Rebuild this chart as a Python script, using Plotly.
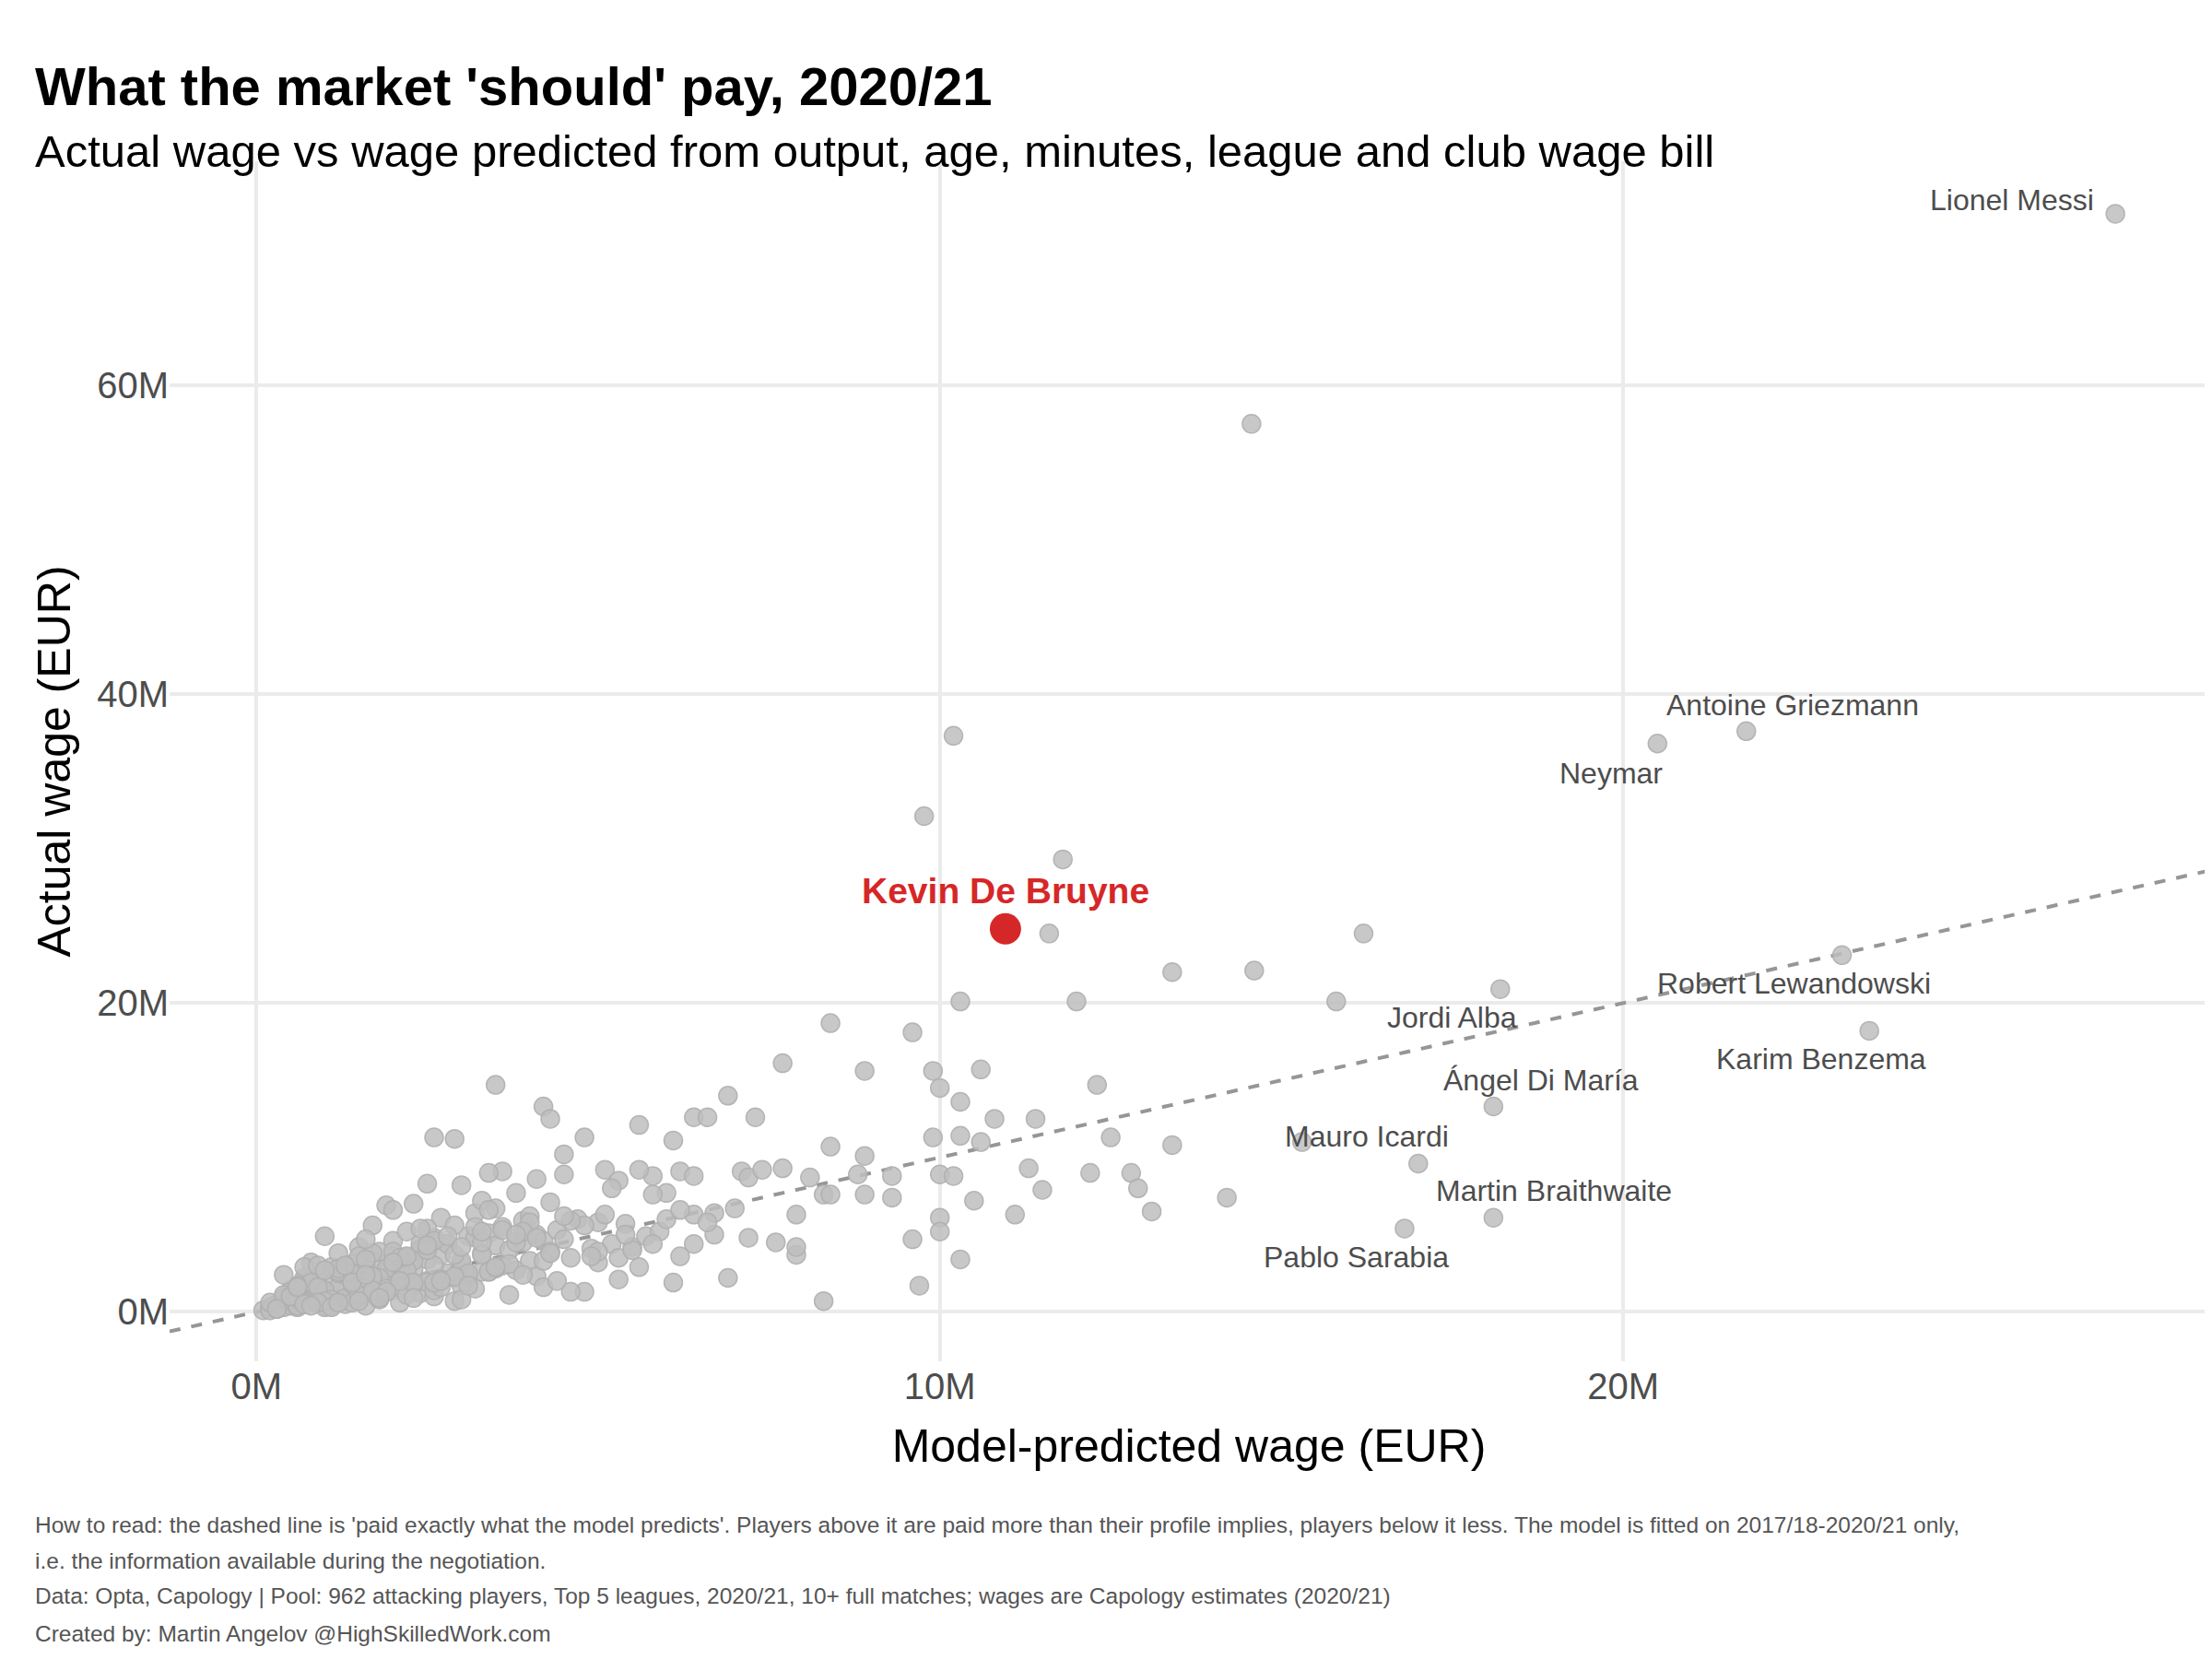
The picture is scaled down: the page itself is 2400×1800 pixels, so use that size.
import plotly.graph_objects as go

# labelled players
names = ["Lionel Messi", "Antoine Griezmann", "Neymar", "Robert Lewandowski", "Karim Benzema",
         "Jordi Alba", "Ángel Di María", "Mauro Icardi", "Martin Braithwaite", "Pablo Sarabia"]
named_pred = [27.2, 21.8, 20.5, 23.2, 23.6, 18.2, 18.1, 15.3, 18.1, 16.8]
named_actual = [71.1, 37.6, 36.8, 23.1, 18.2, 20.9, 13.3, 11.0, 6.1, 5.4]
label_shift = [(-112, 15), (50, 28), (-50, -32), (-52, -31), (-52, -31),
               (-52, -31), (52, 29), (70, 6), (66, 29), (-52, -31)]

kdb_pred = [10.96]
kdb_actual = [24.8]

# other players (model-predicted, actual), millions EUR
other_pred = [
    14.56, 10.2, 9.77, 11.8, 11.6, 16.2, 13.4, 14.6, 15.8, 12.0, 10.3, 17.0, 14.2,
    8.4, 9.6, 7.7, 10.6, 8.9, 9.9, 10.0, 12.3, 10.3, 6.9, 3.5, 4.2, 4.3, 2.6, 5.6, 6.4,
    6.6, 7.3, 10.8, 11.4, 8.4, 8.9, 9.9, 10.3, 10.6, 12.5, 13.4, 4.8, 4.5, 6.1, 11.3,
    12.2, 12.8, 12.9, 13.1, 11.1, 11.5, 10.0, 10.2, 10.5, 9.3, 8.9, 9.3, 8.8, 8.1, 8.3,
    8.4, 7.9, 10.0, 10.0, 9.6, 10.3, 9.7, 8.3, 7.9, 7.9, 7.6, 7.2, 6.9, 6.1, 6.2, 6.4,
    6.7, 7.1, 7.2, 7.4, 7.7, 7.0, 6.7, 6.4, 6.2, 6.4, 6.0, 5.8, 5.8, 5.6, 5.1, 5.3,
    5.2, 4.5, 4.1, 3.6, 3.4,
    # dense cluster
    0.1, 0.2, 0.2, 0.3, 0.3, 0.4, 0.4, 0.5, 0.5, 0.5, 0.6, 0.6, 0.7, 0.7, 0.7, 0.8,
    0.8, 0.9, 0.9, 1.0, 1.0, 1.0, 1.1, 1.1, 1.2, 1.2, 1.2, 1.3, 1.3, 1.4, 1.4, 1.4,
    1.5, 1.5, 1.6, 1.6, 1.6, 1.7, 1.7, 1.8, 1.8, 1.8, 1.9, 1.9, 2.0, 2.0, 2.0, 2.1,
    2.1, 2.2, 2.2, 2.2, 2.3, 2.3, 2.4, 2.4, 2.5, 2.5, 2.5, 2.6, 2.6, 2.7, 2.7, 2.8,
    2.8, 2.9, 2.9, 3.0, 3.0, 3.1, 3.1, 3.2, 3.2, 3.3, 3.3, 3.4, 3.4, 3.5, 3.5, 3.6,
    3.6, 3.7, 3.7, 3.8, 3.8, 3.9, 3.9, 4.0, 4.0, 4.1, 4.1, 4.2, 4.2, 4.3, 4.4, 4.4,
    4.5, 4.6, 4.7, 4.8, 4.9, 5.0, 5.0, 5.1, 5.2, 5.3, 5.4, 5.5, 5.6, 5.7, 5.9, 6.0,
    0.3, 0.6, 0.9, 1.1, 1.3, 1.5, 1.7, 1.9, 2.1, 2.3, 2.5, 2.7, 2.9, 3.1, 3.3, 3.5,
    0.4, 0.8, 1.2, 1.6, 2.0, 2.4, 2.8, 3.2, 3.6, 4.0, 1.0, 1.4, 1.8, 2.2, 2.6, 3.0,
    0.5, 0.7, 1.1, 1.3, 1.9, 2.3, 2.7, 3.4, 3.8, 4.3, 0.8, 2.5, 2.9, 1.5, 0.7, 3.0,
    2.0, 3.3, 3.9, 4.6, 5.3, 4.8, 5.5, 0.9, 1.7, 2.6,
    0.2, 0.4, 0.6, 0.8, 1.0, 1.2, 1.4, 1.6, 1.8, 2.0, 2.2, 2.4, 2.6, 2.8, 3.0, 3.2,
    0.3, 0.5, 0.7, 0.9, 1.1, 1.3, 1.5, 1.7, 1.9, 2.1, 2.3, 2.5, 2.7, 2.9, 3.1, 3.3,
    0.6, 1.0, 1.4, 1.8, 2.2, 2.6, 3.0, 3.4, 3.8, 4.2, 4.6, 5.0, 1.2, 1.6, 2.0, 2.4,
    0.4, 0.9, 1.3, 1.7, 2.1, 2.5, 2.9, 3.3, 3.7, 4.1, 4.5, 4.9, 5.4, 5.8, 6.2, 6.6,
    1.1, 1.5, 1.9, 2.3, 2.7, 3.1, 3.5, 3.9, 4.3, 0.6, 0.8, 1.0, 1.2, 1.4, 1.6, 1.8,
]
other_actual = [
    57.5, 37.3, 32.1, 29.3, 24.5, 24.5, 22.0, 22.1, 20.1, 20.1, 20.1, 9.6, 7.4,
    18.7, 18.1, 16.1, 15.7, 15.6, 15.6, 14.5, 14.7, 13.6, 14.0, 14.7, 13.3, 12.5, 11.3, 12.1, 12.6,
    12.6, 12.6, 12.5, 12.5, 10.7, 10.1, 11.3, 11.4, 11.0, 11.3, 10.8, 11.3, 10.2, 11.1, 9.3,
    9.0, 9.0, 8.0, 6.5, 6.3, 7.9, 8.9, 8.8, 7.2, 8.8, 7.6, 7.4, 8.9, 8.7, 7.6,
    7.6, 6.3, 6.1, 5.2, 4.7, 3.4, 1.7, 0.7, 3.7, 4.2, 4.5, 4.8, 2.2, 1.9, 3.6, 4.4,
    5.0, 9.1, 8.7, 9.2, 9.3, 6.7, 6.4, 6.3, 9.1, 8.8, 7.7, 7.6, 8.8, 9.2, 9.2, 8.5,
    8.0, 8.9, 8.6, 9.1, 9.0,
    # dense cluster
    0.1, 0.3, 0.1, 0.5, 0.2, 0.8, 0.3, 1.2, 0.4, 0.7, 1.5, 0.3, 0.9, 2.0, 0.5, 1.3,
    3.2, 0.6, 2.2, 1.0, 4.9, 0.4, 1.8, 2.9, 0.8, 3.8, 1.6, 2.4, 0.5, 1.2, 3.1, 2.0,
    0.9, 4.2, 1.5, 2.7, 0.4, 3.3, 5.6, 2.1, 1.0, 3.9, 2.6, 6.9, 1.4, 3.0, 4.6, 2.3,
    0.6, 3.5, 1.9, 5.2, 2.8, 7.0, 1.2, 4.1, 3.4, 8.3, 2.0, 4.8, 1.0, 3.7, 6.1, 2.5,
    4.4, 0.7, 5.6, 3.1, 8.2, 2.2, 4.9, 6.4, 1.5, 3.8, 7.2, 5.1, 2.6, 4.3, 6.7, 3.0,
    5.5, 1.1, 4.0, 7.7, 2.7, 5.9, 4.5, 3.3, 6.2, 2.3, 5.0, 4.6, 1.6, 3.9, 5.3, 2.0,
    4.7, 3.5, 6.0, 1.3, 4.1, 3.2, 5.8, 6.3, 4.4, 3.5, 5.7, 4.2, 2.9, 4.9, 5.2, 6.0,
    0.2, 0.4, 0.6, 0.7, 0.9, 1.0, 1.2, 1.3, 1.6, 1.8, 1.9, 2.1, 2.2, 2.4, 2.6, 2.8,
    0.9, 1.7, 2.5, 3.1, 3.6, 4.0, 4.4, 4.8, 5.3, 5.8, 0.3, 0.6, 0.8, 1.1, 1.4, 1.7,
    1.4, 2.2, 0.4, 2.6, 2.8, 3.3, 1.6, 6.6, 4.5, 7.1, 1.8, 5.4, 11.2, 3.6, 2.9, 0.8,
    6.6, 3.7, 5.2, 1.3, 2.1, 5.6, 4.0, 3.0, 3.8, 4.6,
    0.6, 1.1, 0.9, 1.9, 1.4, 2.6, 1.8, 3.4, 2.2, 3.9, 2.7, 4.4, 3.0, 4.9, 3.3, 5.5,
    0.2, 1.0, 0.5, 1.6, 0.8, 2.9, 1.1, 2.3, 1.5, 3.5, 1.9, 4.0, 2.1, 3.7, 2.5, 4.5,
    1.7, 0.7, 2.5, 1.2, 3.6, 1.9, 4.2, 2.6, 5.0, 3.3, 5.9, 3.9, 2.8, 4.7, 3.2, 5.4,
    2.4, 0.6, 3.0, 1.4, 2.0, 4.3, 2.3, 5.2, 3.1, 4.8, 6.2, 3.6, 5.0, 4.4, 6.6, 5.8,
    0.3, 0.7, 1.3, 0.9, 2.0, 1.7, 2.9, 2.4, 3.8, 1.6, 0.4, 2.7, 0.6, 1.9, 2.4, 0.9,
]

axis_range_x = [-1.27, 28.56]
axis_range_y = [-3.2, 74.5]

fig = go.Figure()

# dashed "paid exactly what the model predicts" line
fig.add_trace(go.Scatter(x=axis_range_x, y=axis_range_x, mode="lines",
                         line=dict(color="#969696", width=4, dash="dash"),
                         hoverinfo="skip", showlegend=False))

grey_marker = dict(size=20, color="rgba(190,190,190,0.85)",
                   line=dict(color="rgba(175,175,175,0.9)", width=1.5))
fig.add_trace(go.Scatter(x=other_pred, y=other_actual, mode="markers",
                         marker=grey_marker, showlegend=False))
fig.add_trace(go.Scatter(x=named_pred, y=named_actual, mode="markers",
                         marker=grey_marker, showlegend=False))
fig.add_trace(go.Scatter(x=kdb_pred, y=kdb_actual, mode="markers",
                         marker=dict(size=34, color="#d62728"), showlegend=False))

for name, px_, py_, (dx, dy) in zip(names, named_pred, named_actual, label_shift):
    fig.add_annotation(x=px_, y=py_, text=name, showarrow=False, xshift=dx, yshift=dy,
                       font=dict(size=32, color="#4d4d4d"))

fig.add_annotation(x=kdb_pred[0], y=kdb_actual[0], text="<b>Kevin De Bruyne</b>",
                   showarrow=False, yshift=41, font=dict(size=39, color="#d62728"))

# title block
left = -0.067
fig.add_annotation(xref="paper", yref="paper", x=left, y=1.089, xanchor="left",
                   text="<b>What the market 'should' pay, 2020/21</b>", showarrow=False,
                   font=dict(size=58, color="black"))
fig.add_annotation(xref="paper", yref="paper", x=left, y=1.031, xanchor="left",
                   text="Actual wage vs wage predicted from output, age, minutes, league and club wage bill",
                   showarrow=False, font=dict(size=49, color="black"))

caption_lines = [
    "How to read: the dashed line is 'paid exactly what the model predicts'. Players above it are paid more than their profile implies, players below it less. The model is fitted on 2017/18-2020/21 only,",
    "i.e. the information available during the negotiation.",
    "Data: Opta, Capology | Pool: 962 attacking players, Top 5 leagues, 2020/21, 10+ full matches; wages are Capology estimates (2020/21)",
    "Created by: Martin Angelov @HighSkilledWork.com",
]
caption_y = [-0.148, -0.178, -0.207, -0.239]
for line, cy in zip(caption_lines, caption_y):
    fig.add_annotation(xref="paper", yref="paper", x=left, y=cy, xanchor="left",
                       text=line, showarrow=False, font=dict(size=24.5, color="#555555"))

fig.update_layout(
    width=2400, height=1800,
    paper_bgcolor="white", plot_bgcolor="white",
    font=dict(family="Liberation Sans, Arial, sans-serif"),
    margin=dict(l=176, r=12, t=167, b=331),
    xaxis=dict(range=axis_range_x, tickvals=[0, 10, 20], ticktext=["0M", "10M", "20M"],
               showgrid=True, gridcolor="#ebebeb", gridwidth=4, zeroline=False,
               tickfont=dict(size=40, color="#4d4d4d"), ticks="",
               title=dict(text="Model-predicted wage (EUR)", font=dict(size=50, color="black"), standoff=25)),
    yaxis=dict(range=axis_range_y, tickvals=[0, 20, 40, 60], ticktext=["0M", "20M", "40M", "60M"],
               showgrid=True, gridcolor="#ebebeb", gridwidth=4, zeroline=False,
               tickfont=dict(size=40, color="#4d4d4d"),
               title=dict(text="Actual wage (EUR)", font=dict(size=50, color="black"), standoff=12)),
)

fig.write_html("out.html")
